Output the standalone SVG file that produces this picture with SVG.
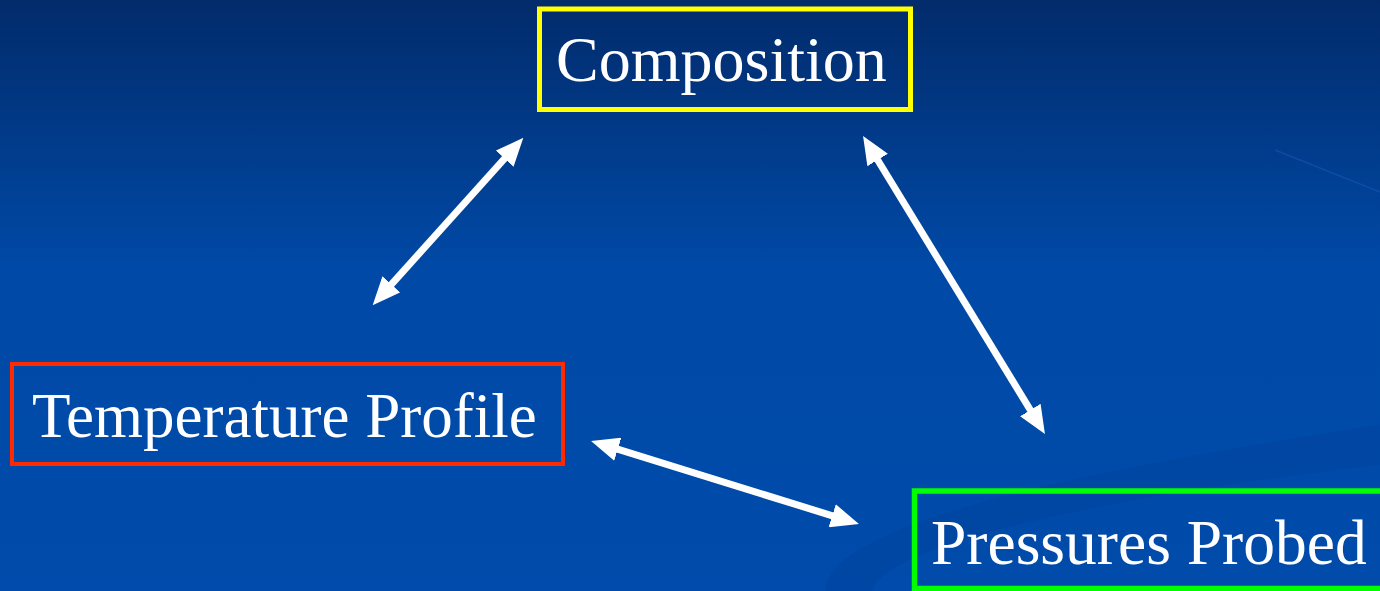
<svg xmlns="http://www.w3.org/2000/svg" width="1380" height="591" viewBox="0 0 1380 591">
<defs>
<linearGradient id="bg" x1="0" y1="0" x2="0" y2="591" gradientUnits="userSpaceOnUse">
<stop offset="0" stop-color="#022b6b"/>
<stop offset="0.45" stop-color="#0049a6"/>
<stop offset="1" stop-color="#004bab"/>
</linearGradient>
<marker id="head" viewBox="0 0 28 24" refX="7" refY="12" markerWidth="28" markerHeight="24" markerUnits="userSpaceOnUse" orient="auto-start-reverse">
<path d="M0,0 L28,12 L0,24 z" fill="#ffffff"/>
</marker>
<style>
.box{fill:none}
.lbl{font-family:"Liberation Serif","Times New Roman",serif;font-size:64px;fill:#ffffff}
.conn{stroke:#ffffff;stroke-width:7;fill:none;marker-start:url(#head);marker-end:url(#head)}
</style>
</defs>
<rect x="0" y="0" width="1380" height="591" fill="url(#bg)"/>
<path d="M825,591 C830,520 1100,468 1380,425 L1380,465 C1150,490 885,540 872,591 Z" fill="#003f98" opacity="0.35"/>
<line x1="1275" y1="150" x2="1380" y2="192" stroke="#2a64c4" stroke-width="1.5" opacity="0.35"/>
<g id="connectors">
<line class="conn" x1="509.3" y1="153.4" x2="386.7" y2="289.6"/>
<line class="conn" x1="874.0" y1="154.0" x2="1034.0" y2="416.0"/>
<line class="conn" x1="611.1" y1="447.2" x2="838.9" y2="517.8"/>
</g>
<g id="composition">
<rect class="box" x="539.5" y="9" width="371" height="100.5" stroke="#ffff00" stroke-width="5"/>
<text class="lbl" x="556" y="81">Composition</text>
</g>
<g id="temperature-profile">
<rect class="box" x="12" y="364" width="551" height="100" stroke="#ff2a00" stroke-width="4"/>
<text class="lbl" x="32" y="437" style="font-size:63px">Temperature Profile</text>
</g>
<g id="pressures-probed">
<rect class="box" x="914.5" y="491" width="480" height="97.5" stroke="#00ff00" stroke-width="5.5"/>
<text class="lbl" x="931" y="564" style="font-size:63.5px">Pressures Probed</text>
</g>
</svg>
